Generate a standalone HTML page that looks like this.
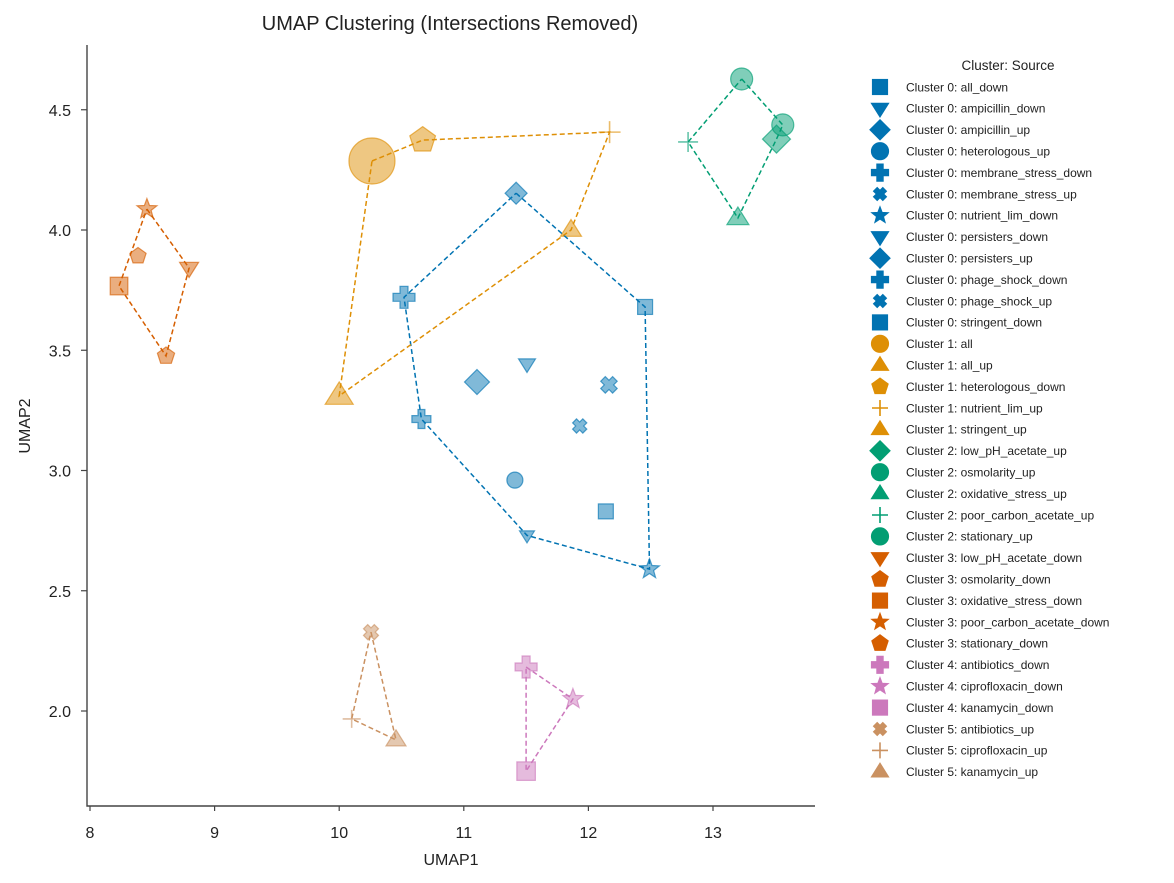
<!DOCTYPE html>
<html><head><meta charset="utf-8"><style>
body{margin:0;background:#fff;}
svg{display:block;font-family:"Liberation Sans","DejaVu Sans",sans-serif;}
</style></head><body>
<svg id="chart" width="1174" height="883" viewBox="0 0 1174 883"></svg>
<script>
const clusterColors=["#0173b2","#de8f05","#029e73","#d55e00","#cc78bc","#ca9161"];
const labels=["Cluster 0: all_down","Cluster 0: ampicillin_down","Cluster 0: ampicillin_up","Cluster 0: heterologous_up","Cluster 0: membrane_stress_down","Cluster 0: membrane_stress_up","Cluster 0: nutrient_lim_down","Cluster 0: persisters_down","Cluster 0: persisters_up","Cluster 0: phage_shock_down","Cluster 0: phage_shock_up","Cluster 0: stringent_down","Cluster 1: all","Cluster 1: all_up","Cluster 1: heterologous_down","Cluster 1: nutrient_lim_up","Cluster 1: stringent_up","Cluster 2: low_pH_acetate_up","Cluster 2: osmolarity_up","Cluster 2: oxidative_stress_up","Cluster 2: poor_carbon_acetate_up","Cluster 2: stationary_up","Cluster 3: low_pH_acetate_down","Cluster 3: osmolarity_down","Cluster 3: oxidative_stress_down","Cluster 3: poor_carbon_acetate_down","Cluster 3: stationary_down","Cluster 4: antibiotics_down","Cluster 4: ciprofloxacin_down","Cluster 4: kanamycin_down","Cluster 5: antibiotics_up","Cluster 5: ciprofloxacin_up","Cluster 5: kanamycin_up"];
const clusters=[0,0,0,0,0,0,0,0,0,0,0,0,1,1,1,1,1,2,2,2,2,2,3,3,3,3,3,4,4,4,5,5,5];
const shapes=["s","v","D","o","P","X","*","v","D","P","X","s","o","^","p","+","^","D","o","^","+","o","v","p","s","*","p","P","*","s","X","+","^"];
const xVals=[12.455,11.507,11.106,11.41,10.52,11.93,12.49,11.507,11.42,10.66,12.165,12.14,10.263,11.86,10.67,12.17,10.0,13.51,13.23,13.2,12.8,13.56,8.795,8.61,8.233,8.457,8.385,11.5,11.876,11.5,10.255,10.1,10.456];
const yVals=[3.68,3.443,3.368,2.96,3.72,3.185,2.59,2.73,4.153,3.214,3.356,2.83,4.287,4.0,4.374,4.407,3.31,4.378,4.628,4.05,4.366,4.437,3.842,3.476,3.767,4.087,3.892,2.183,2.05,1.75,2.328,1.967,1.88];
const sizes=[17,17,25,16,22,19,21,15,22,19,22,17,46,21,27,22,28,28,22,22,20,22,19,18,20,21,17,22,21,21,20,18,20];
const hulls=[[8,0,6,7,9,4],[12,14,15,13,16],[18,21,17,19,20],[25,22,23,24],[27,28,29],[30,32,31]];
const xTicks=[8,9,10,11,12,13];
const yTicks=[2.0,2.5,3.0,3.5,4.0,4.5];

const NS="http://www.w3.org/2000/svg";
const svg=document.getElementById("chart");
const px=v=>90+(v-8)*124.6;
const py=v=>711-(v-2)*240.5;
function mk(tag,attrs,parent){const e=document.createElementNS(NS,tag);for(const k in attrs)e.setAttribute(k,attrs[k]);(parent||svg).appendChild(e);return e;}
function poly(pts){return pts.map(p=>p[0].toFixed(1)+","+p[1].toFixed(1)).join(" ");}
function marker(shape,cx,cy,s,color,alpha,parent){
  const r=s/2;let e;
  const st={fill:color,"fill-opacity":alpha,stroke:color,"stroke-opacity":alpha<1?Math.min(1,alpha+0.15):1,"stroke-width":1.2};
  if(shape==="o")e=mk("circle",Object.assign({cx:cx,cy:cy,r:r},st),parent);
  else if(shape==="s")e=mk("rect",Object.assign({x:cx-r*0.88,y:cy-r*0.88,width:r*1.76,height:r*1.76},st),parent);
  else if(shape==="D")e=mk("polygon",Object.assign({points:poly([[cx,cy-r],[cx+r,cy],[cx,cy+r],[cx-r,cy]])},st),parent);
  else if(shape==="v")e=mk("polygon",Object.assign({points:poly([[cx-r,cy-r*0.6],[cx+r,cy-r*0.6],[cx,cy+r]])},st),parent);
  else if(shape==="^")e=mk("polygon",Object.assign({points:poly([[cx-r,cy+r*0.6],[cx+r,cy+r*0.6],[cx,cy-r]])},st),parent);
  else if(shape==="p"){const p=[];for(let i=0;i<5;i++){const a=-Math.PI/2+i*2*Math.PI/5;p.push([cx+r*Math.cos(a),cy+r*Math.sin(a)]);}e=mk("polygon",Object.assign({points:poly(p)},st),parent);}
  else if(shape==="*"){const p=[];for(let i=0;i<10;i++){const a=-Math.PI/2+i*Math.PI/5;const rr=i%2?r*0.42:r;p.push([cx+rr*Math.cos(a),cy+rr*Math.sin(a)]);}e=mk("polygon",Object.assign({points:poly(p)},st),parent);}
  else if(shape==="P"){const a=r,b=r*0.36;e=mk("polygon",Object.assign({points:poly([[cx-b,cy-a],[cx+b,cy-a],[cx+b,cy-b],[cx+a,cy-b],[cx+a,cy+b],[cx+b,cy+b],[cx+b,cy+a],[cx-b,cy+a],[cx-b,cy+b],[cx-a,cy+b],[cx-a,cy-b],[cx-b,cy-b]])},st),parent);}
  else if(shape==="X"){const a=r*0.75,b=r*0.3;
    const base=[[-a,-a+b*1.4],[-a+b*1.4,-a],[0,-b*1.4],[a-b*1.4,-a],[a,-a+b*1.4],[b*1.4,0],[a,a-b*1.4],[a-b*1.4,a],[0,b*1.4],[-a+b*1.4,a],[-a,a-b*1.4],[-b*1.4,0]];
    e=mk("polygon",Object.assign({points:poly(base.map(q=>[cx+q[0],cy+q[1]]))},st),parent);}
  else if(shape==="+"){e=mk("path",{d:`M${cx-r},${cy}H${cx+r}M${cx},${cy-r}V${cy+r}`,stroke:color,"stroke-opacity":alpha<1?0.6:1,"stroke-width":1.6,fill:"none"},parent);}
  return e;
}
let t=mk("text",{x:450,y:30,"font-size":20,"text-anchor":"middle",fill:"#222"});t.textContent="UMAP Clustering (Intersections Removed)";


let ax=mk("path",{d:"M87,45V806H815",stroke:"#444","stroke-width":1.4,fill:"none"});


xTicks.forEach(v=>{const x=px(v);
  let l=mk("line",{x1:x,x2:x,y1:806,y2:811,stroke:"#444","stroke-width":1.2});
  
  
  let tx=mk("text",{x:x,y:838,"font-size":16,"text-anchor":"middle",fill:"#222"});tx.textContent=v;
  
  });
yTicks.forEach(v=>{const y=py(v);
  let l=mk("line",{x1:81,x2:87,y1:y,y2:y,stroke:"#444","stroke-width":1.2});
  
  
  let tx=mk("text",{x:71,y:y+6,"font-size":16,"text-anchor":"end",fill:"#222"});tx.textContent=v.toFixed(1);
  
  });
t=mk("text",{x:451,y:865,"font-size":16,"text-anchor":"middle",fill:"#222"});t.textContent="UMAP1";


t=mk("text",{x:30,y:426,"font-size":16,"text-anchor":"middle",fill:"#222",transform:"rotate(-90 30 426)"});t.textContent="UMAP2";


xVals.forEach((xv,i)=>{const g=mk("g",{});
  
  
  marker(shapes[i],px(xv),py(yVals[i]),sizes[i],clusterColors[clusters[i]],0.5,g);});
hulls.forEach((h,c)=>{const pts=h.map(i=>[px(xVals[i]),py(yVals[i])]);pts.push(pts[0]);
  const p=mk("polyline",{points:poly(pts),fill:"none",stroke:clusterColors[c],"stroke-width":1.5,"stroke-dasharray":"5,3"});
  
  });
t=mk("text",{x:1008,y:70,"font-size":13.5,"text-anchor":"middle",fill:"#222"});t.textContent="Cluster: Source";


labels.forEach((lab,i)=>{const y=87+i*21.4;const g=mk("g",{});
  
  
  marker(shapes[i],880,y,shapes[i]==="D"?20:shapes[i]==="*"?17:shapes[i]==="+"?16:17,clusterColors[clusters[i]],1,g);
  const tx=mk("text",{x:906,y:y+4.3,"font-size":12,fill:"#222"},g);tx.textContent=lab;});
</script>
</body></html>
